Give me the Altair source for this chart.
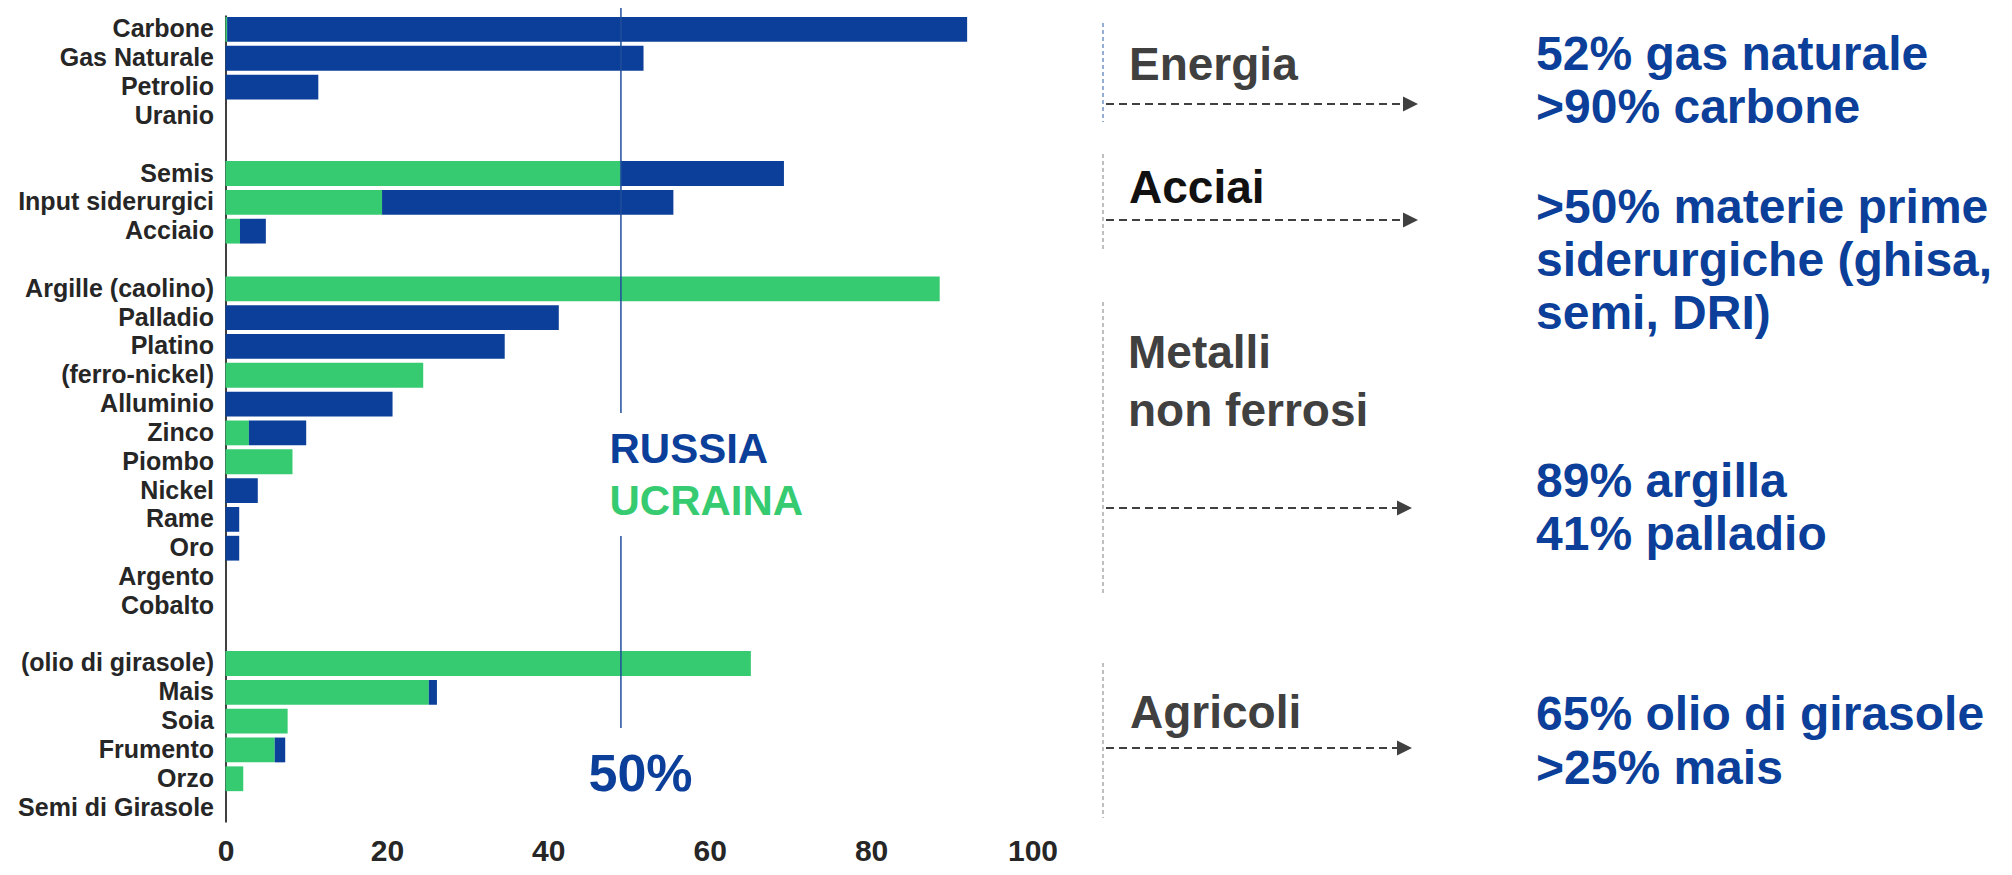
import altair as alt
import pandas as pd

# ---------------- data ----------------
GAP1, GAP2, GAP3 = " ", "  ", "   "
categories = [
    "Carbone", "Gas Naturale", "Petrolio", "Uranio", GAP1,
    "Semis", "Input siderurgici", "Acciaio", GAP2,
    "Argille (caolino)", "Palladio", "Platino", "(ferro-nickel)", "Alluminio",
    "Zinco", "Piombo", "Nickel", "Rame", "Oro", "Argento", "Cobalto", GAP3,
    "(olio di girasole)", "Mais", "Soia", "Frumento", "Orzo", "Semi di Girasole",
]
# share imported from Ukraine (green, drawn first) and additional share from Russia (blue)
ukraine = [0.2, 0, 0, 0, None,
           49.0, 19.4, 1.8, None,
           88.5, 0, 0, 24.5, 0, 2.9, 8.3, 0, 0, 0, 0, 0, None,
           65.1, 25.2, 7.7, 6.1, 2.2, 0]
russia = [91.7, 51.8, 11.5, 0, None,
          20.2, 36.1, 3.2, None,
          0, 41.3, 34.6, 0, 20.7, 7.1, 0, 4.0, 1.7, 1.7, 0, 0, None,
          0, 1.0, 0, 1.3, 0, 0]
series = ["UCRAINA", "RUSSIA"]
x_ticks = [0, 20, 40, 60, 80, 100]
threshold = [49.0]
threshold_label = "50%"
groups = ["Energia", "Acciai", "Metalli\nnon ferrosi", "Agricoli"]
highlights = [
    "52% gas naturale\n>90% carbone",
    ">50% materie prime\nsiderurgiche (ghisa,\nsemi, DRI)",
    "89% argilla\n41% palladio",
    "65% olio di girasole\n>25% mais",
]

rows = []
for c, u, r in zip(categories, ukraine, russia):
    if u is None:
        continue
    rows.append({"cat": c, "paese": series[0], "val": u, "ord": 0})
    rows.append({"cat": c, "paese": series[1], "val": r, "ord": 1})
df = pd.DataFrame(rows)

# ---------------- style ----------------
FONT = "Liberation Sans"
BLUE = "#0b3f99"
GREEN = "#36cb70"
GREY = "#404040"
OX, OY = 225.5, 15.0  # plot origin on the page


def px(x):
    return x - OX


def py(y):
    return y - OY


one = alt.Data(values=[{"k": 0}])

x_axis = alt.Axis(title=None, values=x_ticks, ticks=False, grid=False, domain=False,
                  labelFont=FONT, labelFontWeight="bold", labelFontSize=30,
                  labelColor="#262626", labelPadding=14, labelFlush=False)
x_scale = alt.Scale(domain=[0, 100], nice=False)

bars = alt.Chart(df).mark_bar().encode(
    y=alt.Y("cat:N",
            scale=alt.Scale(domain=categories, paddingInner=0.14, paddingOuter=0.07),
            axis=alt.Axis(title=None, ticks=False, grid=False, labelPadding=12,
                          labelFont=FONT, labelFontWeight="bold", labelFontSize=25,
                          labelColor="#262626", domainColor="#000000", domainWidth=1.5,
                          labelLimit=400)),
    x=alt.X("val:Q", stack="zero", scale=x_scale, axis=x_axis),
    color=alt.Color("paese:N", scale=alt.Scale(domain=series, range=[GREEN, BLUE]), legend=None),
    order=alt.Order("ord:Q"),
)

thr_df = pd.DataFrame({"v": threshold})
thr1 = alt.Chart(thr_df).mark_rule(color="#1f4e9c", strokeWidth=1.5).encode(
    x=alt.X("v:Q", scale=x_scale, axis=x_axis), y=alt.value(py(4)), y2=alt.value(py(413)))
thr2 = alt.Chart(thr_df).mark_rule(color="#1f4e9c", strokeWidth=1.5).encode(
    x=alt.X("v:Q", scale=x_scale, axis=x_axis), y=alt.value(py(536)), y2=alt.value(py(728)))


def text_layer(txt, x, y, size, color, lh=None):
    kw = dict(text=txt, align="left", baseline="alphabetic", font=FONT, fontWeight="bold",
              fontSize=size, color=color)
    if lh is not None:
        kw.update(lineBreak="\n", lineHeight=lh)
    return alt.Chart(one).mark_text(**kw).encode(x=alt.value(px(x)), y=alt.value(py(y)))


def vdash(x, y1, y2, color):
    return alt.Chart(one).mark_rule(color=color, strokeWidth=1, strokeDash=[4, 3]).encode(
        x=alt.value(px(x)), y=alt.value(py(y1)), y2=alt.value(py(y2)))


def arrow(x1, x2, y):
    line = alt.Chart(one).mark_rule(color=GREY, strokeWidth=2, strokeDash=[8, 5]).encode(
        x=alt.value(px(x1)), x2=alt.value(px(x2)), y=alt.value(py(y)))
    head = alt.Chart(one).mark_point(shape="M -1 -1 L 1 0 L -1 1 Z", filled=True, size=225,
                                     color=GREY, opacity=1).encode(
        x=alt.value(px(x2 + 7.5)), y=alt.value(py(y)))
    return [line, head]


layers = [bars, thr1, thr2,
          text_layer(series[1], 609.5, 463, 42, BLUE),
          text_layer(series[0], 609.5, 515, 42, GREEN),
          text_layer(threshold_label, 588.5, 791, 52, BLUE)]

layers += [vdash(1103, 23, 122, "#2f5aa6"), vdash(1103, 154, 252, "#808080"),
           vdash(1103, 302, 595, "#808080"), vdash(1103, 663, 818, "#808080")]
layers += arrow(1106, 1403, 104) + arrow(1106, 1403, 220) + arrow(1106, 1397, 508) + arrow(1106, 1397, 748)

layers += [text_layer(groups[0], 1129, 80, 46, GREY),
           text_layer(groups[1], 1129, 203, 46, "#111111"),
           text_layer(groups[2], 1128, 368, 46, GREY, lh=58),
           text_layer(groups[3], 1130, 728, 46, GREY)]
layers += [text_layer(highlights[0], 1536, 70, 48, BLUE, lh=53),
           text_layer(highlights[1], 1536, 223, 48, BLUE, lh=53),
           text_layer(highlights[2], 1536, 497, 48, BLUE, lh=53),
           text_layer(highlights[3], 1536, 730, 48, BLUE, lh=53.5)]

chart = alt.layer(*layers).properties(
    width=807, height=807,
    padding={"left": 217.5, "top": 7, "right": 971, "bottom": 45},
    autosize=alt.AutoSizeParams(type="none"),
).configure_view(stroke=None)

chart.save("out.html", embed_options={"renderer": "svg", "actions": False})
